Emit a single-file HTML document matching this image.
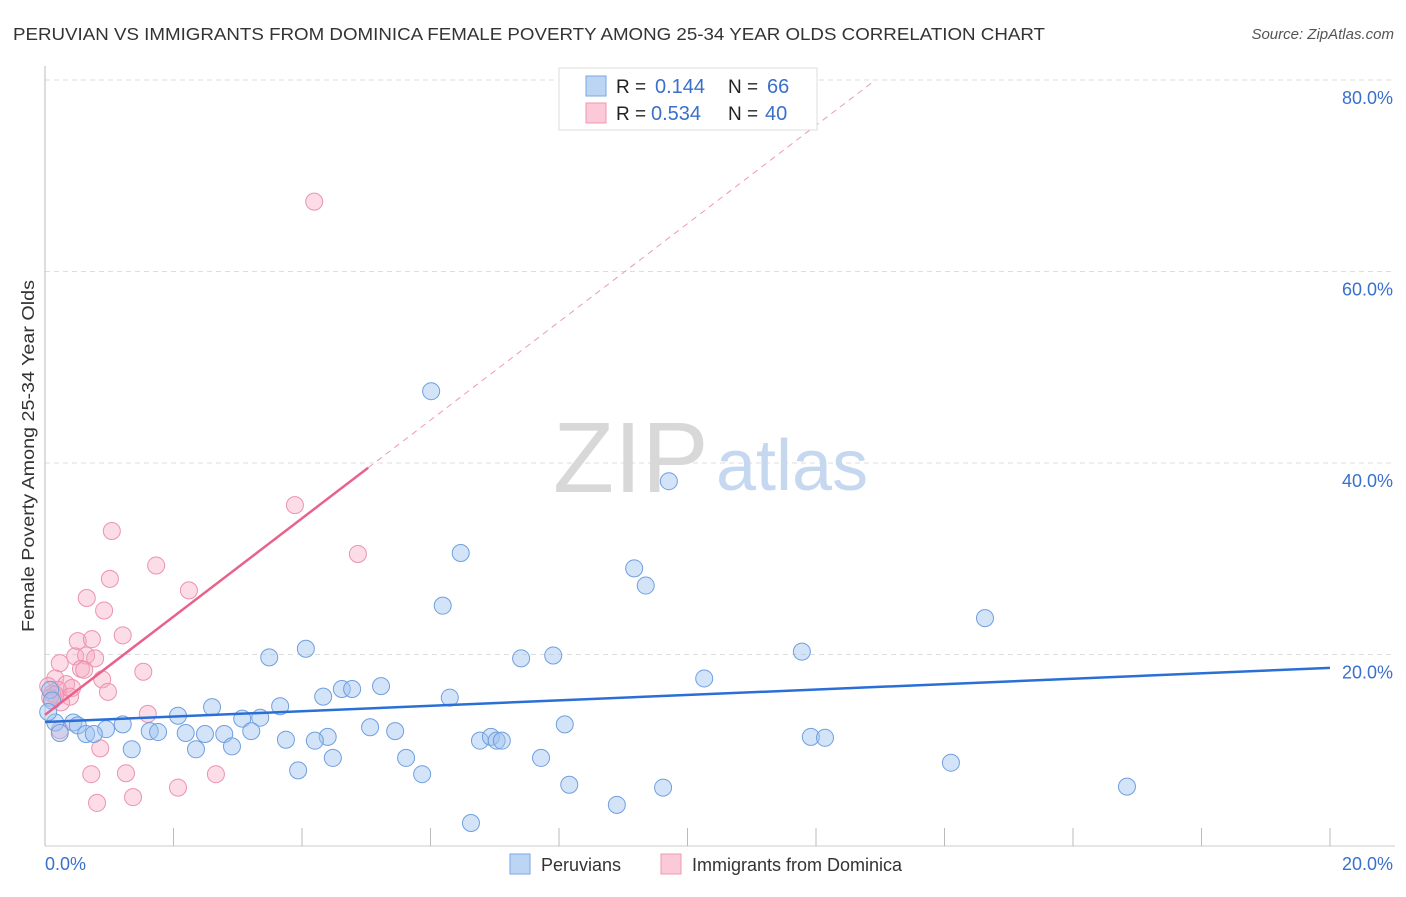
<!DOCTYPE html>
<html><head><meta charset="utf-8"><style>
body{margin:0;background:#fff;font-family:"Liberation Sans",sans-serif}
svg text{font-family:"Liberation Sans",sans-serif}
</style></head><body>
<svg id="chart" width="1406" height="892" viewBox="0 0 1406 892" xmlns="http://www.w3.org/2000/svg">
<text x="13" y="40" font-size="17.5" fill="#333" textLength="1032" lengthAdjust="spacingAndGlyphs">PERUVIAN VS IMMIGRANTS FROM DOMINICA FEMALE POVERTY AMONG 25-34 YEAR OLDS CORRELATION CHART</text>
<text x="1394" y="39" font-size="15" fill="#555" font-style="italic" text-anchor="end">Source: ZipAtlas.com</text>
<g id="grid"></g>
<g>
<text x="553" y="492" font-family="Liberation Serif" font-size="100" fill="#d8d8d8">ZIP</text>
<text x="716" y="490" font-size="72" fill="#c6d8f0">atlas</text>
</g>
<line x1="45" y1="66" x2="45" y2="846" stroke="#bbb"/>
<line x1="45" y1="846" x2="1395" y2="846" stroke="#ccc"/>
<g id="xticks"></g>
<g id="ylabels"></g>
<text x="45" y="870" font-size="18" fill="#3a70cc">0.0%</text>
<text x="1393" y="870" font-size="18" fill="#3a70cc" text-anchor="end">20.0%</text>
<text transform="translate(34,456) rotate(-90)" font-size="17.5" fill="#333" text-anchor="middle" textLength="352" lengthAdjust="spacingAndGlyphs">Female Poverty Among 25-34 Year Olds</text>
<g id="pinkpts"></g>
<g id="bluepts"></g>
<g id="lines"></g>
<g>
<rect x="559" y="68" width="258" height="62" fill="#fff" stroke="#ddd"/>
<rect x="586" y="76" width="20" height="20" fill="#bcd5f5" stroke="#7aa6e0"/>
<text x="616" y="93" font-size="19" fill="#222">R = </text><text x="655" y="93" font-size="20" fill="#3a70cc">0.144</text>
<text x="728" y="93" font-size="19" fill="#222">N = </text><text x="767" y="93" font-size="20" fill="#3a70cc">66</text>
<rect x="586" y="103" width="20" height="20" fill="#fbc9d8" stroke="#ee98b2"/>
<text x="616" y="120" font-size="19" fill="#222">R = </text><text x="651" y="120" font-size="20" fill="#3a70cc">0.534</text>
<text x="728" y="120" font-size="19" fill="#222">N = </text><text x="765" y="120" font-size="20" fill="#3a70cc">40</text>
</g>
<g>
<rect x="510" y="854" width="20" height="20" fill="#bcd5f5" stroke="#7aa6e0"/>
<text x="541" y="871" font-size="18" fill="#333">Peruvians</text>
<rect x="661" y="854" width="20" height="20" fill="#fbc9d8" stroke="#ee98b2"/>
<text x="692" y="871" font-size="18" fill="#333">Immigrants from Dominica</text>
</g>
</svg>
<script>
const yTicks=[20,40,60,80];
const yTickLabels=["20.0%","40.0%","60.0%","80.0%"];
const xTicks=[0,2,4,6,8,10,12,14,16,18,20];
const blueX=[6.01,9.71,6.47,9.17,9.35,6.19,14.63,3.49,4.06,7.41,7.91,11.78,10.26,5.23,4.62,4.78,4.33,6.30,2.60,3.66,2.07,3.07,3.35,1.21,0.44,0.51,0.95,1.63,1.76,2.19,2.49,2.79,3.21,5.06,5.45,8.09,4.40,3.75,4.20,6.77,6.94,7.03,7.11,11.92,12.14,1.35,2.35,2.91,0.64,0.76,0.16,0.23,4.48,5.62,7.72,3.94,5.87,14.10,8.16,9.62,16.84,8.90,6.63,0.08,0.11,0.05];
const blueY=[47.5,38.1,30.6,29.0,27.2,25.1,23.8,19.7,20.6,19.6,19.9,20.3,17.5,16.7,16.4,16.4,15.6,15.5,14.5,14.6,13.6,13.3,13.4,12.7,12.9,12.6,12.2,12.0,11.9,11.8,11.7,11.7,12.0,12.4,12.0,12.7,11.4,11.1,11.0,11.0,11.4,11.0,11.0,11.4,11.3,10.1,10.1,10.4,11.7,11.7,12.9,11.8,9.2,9.2,9.2,7.9,7.5,8.7,6.4,6.1,6.2,4.3,2.4,16.3,15.2,14.0];
const pinkX=[4.19,3.89,4.87,1.04,1.01,1.73,2.24,0.65,0.92,1.21,0.51,0.73,0.47,0.64,0.78,0.23,0.56,0.61,1.53,0.16,0.33,0.42,0.89,0.05,0.20,0.11,0.39,0.25,0.98,1.60,0.86,0.72,1.26,2.66,0.81,1.37,2.07,0.23,0.16,0.08];
const pinkY=[67.3,35.6,30.5,32.9,27.9,29.3,26.7,25.9,24.6,22.0,21.4,21.6,19.8,19.9,19.6,19.1,18.5,18.4,18.2,17.5,16.9,16.5,17.4,16.7,16.3,15.9,15.6,15.0,16.1,13.8,10.2,7.5,7.6,7.5,4.5,5.1,6.1,12.1,15.8,15.5];
const blueTrend=[12.95,18.6];
const pinkTrend=[13.7,5.13];
const pinkSolidEnd=5.03, pinkDashEnd=12.9;
const NS="http://www.w3.org/2000/svg";
const X=v=>45+v/20*1285;
const Y=v=>846-v/80*766;
function mk(tag,attrs,parent){const e=document.createElementNS(NS,tag);for(const k in attrs)e.setAttribute(k,attrs[k]);document.getElementById(parent).appendChild(e);return e;}
yTicks.forEach((t,i)=>{
 const l=mk('line',{x1:45,x2:1395,y1:Y(t),y2:Y(t),stroke:'#ddd','stroke-dasharray':'5,4'},'grid');
 
 
 const tx=mk('text',{x:1393,y:Y(t)+24,'font-size':18,fill:'#3a70cc','text-anchor':'end'},'ylabels');
 tx.textContent=yTickLabels[i];
 
 
});
xTicks.forEach(t=>{
 const l=mk('line',{x1:X(t),x2:X(t),y1:828,y2:846,stroke:'#bbb'},'xticks');
 
 
});
pinkX.forEach((v,i)=>{
 const c=mk('circle',{cx:X(v),cy:Y(pinkY[i]),r:8.5,fill:'rgba(247,170,195,0.4)',stroke:'#eb93ae','stroke-width':1},'pinkpts');
 
 
});
blueX.forEach((v,i)=>{
 const c=mk('circle',{cx:X(v),cy:Y(blueY[i]),r:8.5,fill:'rgba(160,196,240,0.45)',stroke:'#6f9fe0','stroke-width':1},'bluepts');
 
 
});
const pf=x=>pinkTrend[0]+pinkTrend[1]*x;
let d=mk('line',{x1:X(pinkSolidEnd),y1:Y(pf(pinkSolidEnd)),x2:X(pinkDashEnd),y2:Y(pf(pinkDashEnd)),stroke:'#eb9ab2','stroke-width':1,'stroke-dasharray':'6,5'},'lines');


let p=mk('line',{x1:X(0),y1:Y(pf(0)),x2:X(pinkSolidEnd),y2:Y(pf(pinkSolidEnd)),stroke:'#e8628c','stroke-width':2.5},'lines');


let b=mk('line',{x1:X(0),y1:Y(blueTrend[0]),x2:X(20),y2:Y(blueTrend[1]),stroke:'#2a6fd6','stroke-width':2.5},'lines');


</script>
</body></html>
